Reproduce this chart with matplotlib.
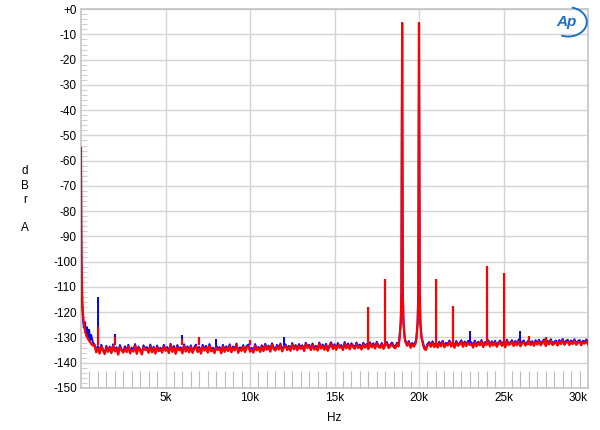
import numpy as np
import matplotlib.pyplot as plt
from matplotlib.patches import Arc

plt.rcParams['font.family'] = ['Liberation Sans', 'DejaVu Sans']
plt.rcParams['font.size'] = 8.5

C_BLUE = '#0000ff'
C_RED = '#ff0000'
C_GRID = '#d4d4d4'

# ── low-frequency roll-off (Hz, dBrA) ────────────────────────────────────────
blue_low_f = [0, 15, 30, 50, 80, 120, 170, 240, 300, 360, 420, 480, 540, 600, 700]
blue_low_db = [-60, -88, -102, -111, -118, -123, -126, -124, -129, -126, -130,
               -127, -131, -129, -132]
red_low_f = [0, 15, 30, 50, 80, 120, 170, 240, 330, 450, 600, 700]
red_low_db = [-55, -85, -100, -110, -117, -121, -124.5, -127.5, -129.5, -131,
              -132.5, -133.2]

# ── noise floor, one value per 100 Hz bin from 800 Hz to 30 kHz ──────────────
noise_start, noise_step = 800, 100
blue_noise = [
    -132.8, -135.1, -133.4, -135.6, -132.9, -134.8, -136.0, -133.3, -135.2, -133.6,
    -135.7, -132.7, -134.9, -133.9, -136.1, -133.0, -134.6, -135.5, -133.5, -135.3,
    -132.9, -135.8, -134.0, -135.0, -132.6, -135.9, -133.6, -134.7, -136.0, -133.1,
    -134.5, -133.8, -135.6, -132.8, -135.2, -133.7, -135.9, -133.2, -134.9, -134.1,
    -135.4, -132.9, -134.7, -133.8, -135.6, -132.5, -135.0, -133.4, -135.8, -133.0,
    -134.6, -133.9, -135.7, -132.7, -135.1, -133.5, -135.3, -133.1, -135.5, -133.9,
    -132.8, -135.2, -133.7, -135.8, -132.9, -134.6, -133.3, -135.4, -132.6, -134.9,
    -134.0, -135.6, -133.2, -134.4, -133.8, -135.7, -132.9, -135.0, -133.5, -134.8,
    -132.7, -135.3, -133.6, -134.5, -132.4, -135.5, -133.9, -134.7, -133.0, -135.2,
    -133.4, -132.8, -135.0, -134.1, -135.4, -132.6, -134.5, -133.7, -135.1, -133.1,
    -134.8, -132.5, -134.3, -133.2, -135.0, -132.3, -134.0, -134.6, -132.9, -134.2,
    -132.4, -134.9, -133.5, -132.7, -134.4, -133.3, -134.7, -132.2, -134.1, -133.0,
    -134.5, -132.6, -133.9, -133.1, -134.8, -132.1, -133.6, -132.9, -134.4, -132.4,
    -134.2, -133.3, -134.6, -132.0, -133.8, -132.8, -134.3, -132.5, -134.7, -133.2,
    -131.9, -134.0, -132.7, -134.3, -132.2, -133.5, -133.0, -134.4, -131.8, -133.7,
    -132.4, -134.1, -132.3, -133.2, -133.9, -132.0, -133.6, -132.8, -134.2, -132.1,
    -133.4, -132.6, -134.0, -131.9, -133.3, -132.3, -133.8, -131.7, -133.1, -133.5,
    -132.2, -133.9, -132.5, -131.8, -133.6, -132.9, -132.0, -133.2, -133.7, -132.1,
    -132.9, -131.6, -133.3, -132.0, -131.3, -132.7, -131.4, -133.5, -132.2, -133.0,
    -131.7, -131.2, -132.8, -131.9, -131.1, -133.7, -134.6, -132.6, -131.8, -133.1,
    -131.5, -133.2, -132.0, -133.4, -131.7, -132.9, -131.3, -133.3, -132.1, -132.6,
    -131.2, -133.0, -131.8, -133.5, -131.4, -132.7, -132.2, -131.1, -133.1, -131.6,
    -132.8, -131.3, -132.4, -131.9, -133.4, -131.2, -132.9, -131.7, -132.5, -131.0,
    -133.2, -131.8, -132.3, -131.1, -133.0, -131.5, -132.6, -131.3, -133.1, -132.0,
    -131.2, -132.7, -131.6, -133.3, -130.9, -132.4, -132.0, -131.1, -132.8, -131.4,
    -132.5, -130.8, -132.9, -131.7, -131.2, -132.6, -131.9, -131.0, -132.4, -131.5,
    -132.7, -131.1, -132.2, -130.9, -132.5, -131.6, -130.8, -132.8, -131.3, -132.1,
    -130.7, -132.4, -131.8, -131.2, -132.6, -131.0, -132.0, -130.6, -132.3, -131.4,
    -130.9, -132.4, -131.2, -132.0, -130.7, -132.3, -131.5, -131.0, -132.5, -131.3,
    -131.8, -130.8, -132.1,
]
red_noise = [
    -133.1, -135.9, -134.2, -136.4, -133.5, -135.2, -136.6, -133.9, -135.7, -134.0,
    -136.2, -133.3, -135.5, -134.6, -136.8, -133.7, -135.1, -136.0, -134.3, -135.8,
    -133.4, -136.3, -134.8, -135.6, -133.2, -136.5, -134.1, -135.3, -136.7, -133.8,
    -135.0, -134.5, -136.1, -133.6, -135.9, -134.2, -136.4, -133.9, -135.4, -134.7,
    -136.0, -133.5, -135.3, -134.4, -136.2, -133.1, -135.7, -134.0, -136.5, -133.8,
    -135.1, -134.6, -136.3, -133.3, -135.6, -134.1, -135.9, -133.7, -136.1, -134.5,
    -133.4, -135.8, -134.3, -136.4, -133.6, -135.2, -134.0, -136.0, -133.2, -135.5,
    -134.7, -136.2, -133.9, -135.0, -134.4, -136.3, -133.5, -135.7, -134.1, -135.4,
    -133.3, -135.9, -134.2, -135.1, -133.0, -136.1, -134.5, -135.3, -133.6, -135.8,
    -134.0, -133.4, -135.6, -134.8, -136.0, -133.2, -135.1, -134.3, -135.7, -133.7,
    -135.4, -133.1, -134.9, -133.8, -135.6, -132.9, -134.6, -135.2, -133.5, -134.8,
    -133.0, -135.5, -134.1, -133.3, -135.0, -133.9, -135.3, -132.8, -134.7, -133.6,
    -135.1, -133.2, -134.5, -133.7, -135.4, -132.7, -134.2, -133.5, -135.0, -133.0,
    -134.8, -133.9, -135.2, -132.6, -134.4, -133.4, -134.9, -133.1, -135.3, -133.8,
    -132.5, -134.6, -133.3, -134.9, -132.8, -134.1, -133.6, -135.0, -132.4, -134.3,
    -133.0, -134.7, -132.9, -133.8, -134.5, -132.6, -134.2, -133.4, -134.8, -132.7,
    -134.0, -133.2, -134.6, -132.5, -133.9, -132.9, -134.4, -132.3, -133.7, -134.1,
    -132.8, -134.5, -133.1, -132.4, -134.2, -133.5, -132.6, -133.8, -134.3, -132.7,
    -133.5, -132.2, -133.9, -132.6, -131.9, -133.3, -132.0, -134.1, -132.8, -133.6,
    -132.3, -131.8, -133.4, -132.5, -131.7, -134.3, -135.0, -133.2, -132.4, -133.7,
    -132.1, -133.8, -132.6, -134.0, -132.3, -133.5, -131.9, -133.9, -132.7, -133.2,
    -131.8, -133.6, -132.4, -134.1, -132.0, -133.3, -132.8, -131.7, -133.7, -132.2,
    -133.4, -131.9, -133.0, -132.5, -134.0, -131.8, -133.5, -132.3, -133.1, -131.6,
    -133.8, -132.4, -132.9, -131.7, -133.6, -132.1, -133.2, -131.9, -133.7, -132.6,
    -131.8, -133.3, -132.2, -133.9, -131.5, -133.0, -132.6, -131.7, -133.4, -132.0,
    -133.1, -131.4, -133.5, -132.3, -131.8, -133.2, -132.5, -131.6, -133.0, -132.1,
    -133.3, -131.7, -132.8, -131.5, -133.1, -132.2, -131.4, -133.4, -131.9, -132.7,
    -131.3, -133.0, -132.4, -131.8, -133.2, -131.6, -132.6, -131.2, -132.9, -132.0,
    -131.5, -133.0, -131.8, -132.6, -131.3, -132.9, -132.1, -131.6, -133.1, -131.9,
    -132.4, -131.4, -132.7,
]

# ── the two test tones (19 kHz + 20 kHz) with their skirts ───────────────────
tone_f = [18850, 18920, 18960, 19000, 19040, 19080, 19150,
          19850, 19920, 19960, 20000, 20040, 20080, 20150]
tone_db = [-130, -124, -112, -5.5, -112, -124, -130,
           -130, -124, -112, -5.5, -112, -124, -130]

# ── intermodulation / spurious lines (Hz, dBrA) ──────────────────────────────
spur_floor = -133
blue_spur_f = [1000, 2000, 6000, 8000, 12000, 17000, 18000, 21000, 22000,
               23000, 24000, 25000, 26000]
blue_spur_db = [-114, -128.5, -129, -130.5, -130, -118, -107, -107, -117.5,
                -127.5, -101.5, -104.5, -127.5]
red_spur_f = [1000, 2000, 6000, 7000, 10000, 17000, 18000, 21000, 22000,
              24000, 25000, 26500, 27500]
red_spur_db = [-126, -130, -130.5, -130, -131, -118, -107, -107, -117.5,
               -101.5, -104.5, -129.5, -130]


def build_trace(low_f, low_db, noise):
    f = np.concatenate([low_f, noise_start + noise_step * np.arange(len(noise))])
    db = np.concatenate([low_db, noise])
    # drop noise bins sitting under the tone skirts, then merge the tones in
    keep = np.ones(len(f), bool)
    for c in (19000, 20000):
        keep &= np.abs(f - c) > 160
    f = np.concatenate([f[keep], tone_f])
    db = np.concatenate([db[keep], tone_db])
    order = np.argsort(f, kind='stable')
    return f[order], db[order]


bf, bdb = build_trace(blue_low_f, blue_low_db, blue_noise)
rf, rdb = build_trace(red_low_f, red_low_db, red_noise)

fig = plt.figure(figsize=(6, 4.3), dpi=100)
ax = fig.add_axes([0.135, 0.0977, 0.845, 0.881])

ax.plot(bf, bdb, color=C_BLUE, linewidth=1.4, zorder=3)
ax.vlines(blue_spur_f, spur_floor, blue_spur_db, color=C_BLUE, linewidth=1.4, zorder=3)
ax.plot(rf, rdb, color=C_RED, linewidth=1.6, zorder=4)
ax.vlines(red_spur_f, spur_floor, red_spur_db, color=C_RED, linewidth=1.6, zorder=4)

ax.set_xlim(0, 30000)
ax.set_ylim(-150, 0)

xt = [5000, 10000, 15000, 20000, 25000, 30000]
ax.set_xticks(xt)
ax.set_xticklabels(['5k', '10k', '15k', '20k', '25k', '30k'])
ax.get_xticklabels()[-1].set_horizontalalignment('right')
ax.set_xticks(np.arange(500, 30000, 500), minor=True)
yt = np.arange(-150, 1, 10)
ax.set_yticks(yt)
ax.set_yticklabels(['+0' if v == 0 else str(v) for v in yt])
ax.set_yticks(np.arange(-150, 0, 2), minor=True)

ax.tick_params(axis='both', which='major', length=0, pad=3, colors='black')
ax.tick_params(axis='x', which='minor', direction='in', length=12,
               color='#bcbcbc', width=0.8)
ax.tick_params(axis='y', which='minor', direction='in', length=4,
               color='#c8c8c8', width=0.6)

ax.grid(True, which='major', color=C_GRID, linewidth=1.0, zorder=0)
for s in ax.spines.values():
    s.set_color('#c4c4c4')
    s.set_linewidth(1.2)

ax.set_xlabel('Hz', labelpad=6)
fig.text(0.042, 0.535, 'd\nB\nr\n\nA', ha='center', va='center',
         fontsize=8.5, linespacing=1.25)

# Audio Precision logo
fig.text(0.945, 0.949, 'Ap', color='#1f6fc4', fontsize=11,
         fontweight='bold', fontstyle='italic', ha='center', va='center')
fig.add_artist(Arc((0.947, 0.949), 0.062, 0.068, theta1=-110, theta2=80,
                   transform=fig.transFigure, color='#1f6fc4', linewidth=1.4))

plt.savefig('out.png', dpi=100)
plt.close()
